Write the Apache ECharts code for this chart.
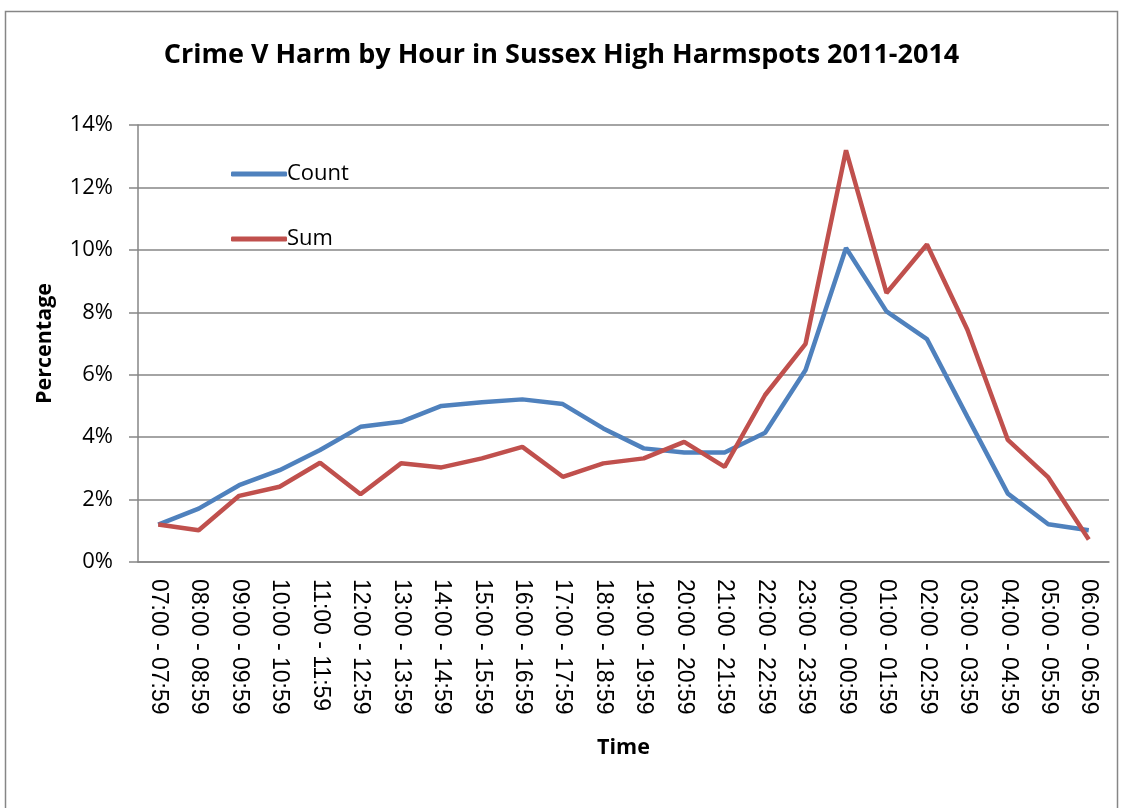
<!DOCTYPE html>
<html>
<head>
<meta charset="utf-8">
<script src="https://cdn.jsdelivr.net/npm/echarts@6/dist/echarts.min.js"></script>
<style>
  html, body { margin: 0; padding: 0; background: #fff; }
  #chart { width: 1123px; height: 808px; }
</style>
</head>
<body>
<div id="chart"></div>
<script>
// hourly bands
const hours = [
  "07:00 - 07:59", "08:00 - 08:59", "09:00 - 09:59", "10:00 - 10:59",
  "11:00 - 11:59", "12:00 - 12:59", "13:00 - 13:59", "14:00 - 14:59",
  "15:00 - 15:59", "16:00 - 16:59", "17:00 - 17:59", "18:00 - 18:59",
  "19:00 - 19:59", "20:00 - 20:59", "21:00 - 21:59", "22:00 - 22:59",
  "23:00 - 23:59", "00:00 - 00:59", "01:00 - 01:59", "02:00 - 02:59",
  "03:00 - 03:59", "04:00 - 04:59", "05:00 - 05:59", "06:00 - 06:59"
];
// percentages
const countValues = [1.2, 1.71, 2.46, 2.94, 3.59, 4.33, 4.49, 5.0, 5.12, 5.21, 5.06, 4.28,
  3.64, 3.51, 3.51, 4.14, 6.15, 10.06, 8.03, 7.14, 4.65, 2.19, 1.21, 1.02];
const sumValues = [1.2, 1.02, 2.12, 2.41, 3.18, 2.17, 3.16, 3.03, 3.32, 3.69, 2.73, 3.16,
  3.32, 3.85, 3.05, 5.35, 6.99, 13.19, 8.62, 10.17, 7.44, 3.91, 2.71, 0.72];

const font = "Open Sans";
const chart = echarts.init(document.getElementById("chart"));

chart.setOption({
  animation: false,
  textStyle: { fontFamily: font, color: "#000" },
  title: {
    text: "Crime V Harm by Hour in Sussex High Harmspots 2011-2014",
    left: "center",
    top: 37,
    textStyle: { fontSize: 27, fontWeight: "bold", color: "#000", fontFamily: font }
  },
  // outer chart border
  graphic: [{
    type: "rect",
    shape: { x: 5.5, y: 11.5, width: 1112, height: 820 },
    style: { fill: "none", stroke: "#868686", lineWidth: 1.5 },
    silent: true
  }],
  legend: {
    orient: "vertical",
    left: 226,
    top: 155,
    itemWidth: 56,
    itemHeight: 5,
    itemGap: 37,
    icon: "roundRect",
    textStyle: { fontSize: 22, lineHeight: 28, color: "#000", fontFamily: font, padding: [0, 0, 0, -5] },
    data: ["Count", "Sum"]
  },
  grid: { left: 138, right: 14, top: 125, bottom: 246 },
  xAxis: {
    type: "category",
    data: hours,
    boundaryGap: true,
    name: "Time",
    nameLocation: "middle",
    nameGap: 175,
    nameTextStyle: { fontSize: 21.5, fontWeight: "bold", color: "#000", fontFamily: font },
    axisLine: { lineStyle: { color: "#868686", width: 1.5 } },
    axisTick: { alignWithLabel: false, length: 7, lineStyle: { color: "#868686", width: 1.5 } },
    axisLabel: { rotate: -90, interval: 0, margin: 17, fontSize: 23, color: "#000", fontFamily: "Liberation Sans" }
  },
  yAxis: {
    type: "value",
    min: 0,
    max: 14,
    interval: 2,
    name: "Percentage",
    nameLocation: "middle",
    nameRotate: 90,
    nameGap: 82,
    nameTextStyle: { fontSize: 21.5, fontWeight: "bold", color: "#000", fontFamily: font },
    axisLine: { show: true, lineStyle: { color: "#868686", width: 1.5 } },
    axisTick: { show: true, length: 9, lineStyle: { color: "#868686", width: 1.5 } },
    axisLabel: { margin: 25, fontSize: 22, color: "#000", fontFamily: font, formatter: "{value}%" },
    splitLine: { lineStyle: { color: "#868686", width: 1.5 } }
  },
  series: [
    {
      name: "Count",
      type: "line",
      data: countValues,
      symbol: "none",
      itemStyle: { color: "#4F81BD" },
      lineStyle: { color: "#4F81BD", width: 4.5 }
    },
    {
      name: "Sum",
      type: "line",
      data: sumValues,
      symbol: "none",
      itemStyle: { color: "#C0504D" },
      lineStyle: { color: "#C0504D", width: 4.5 }
    }
  ]
});
</script>
</body>
</html>
